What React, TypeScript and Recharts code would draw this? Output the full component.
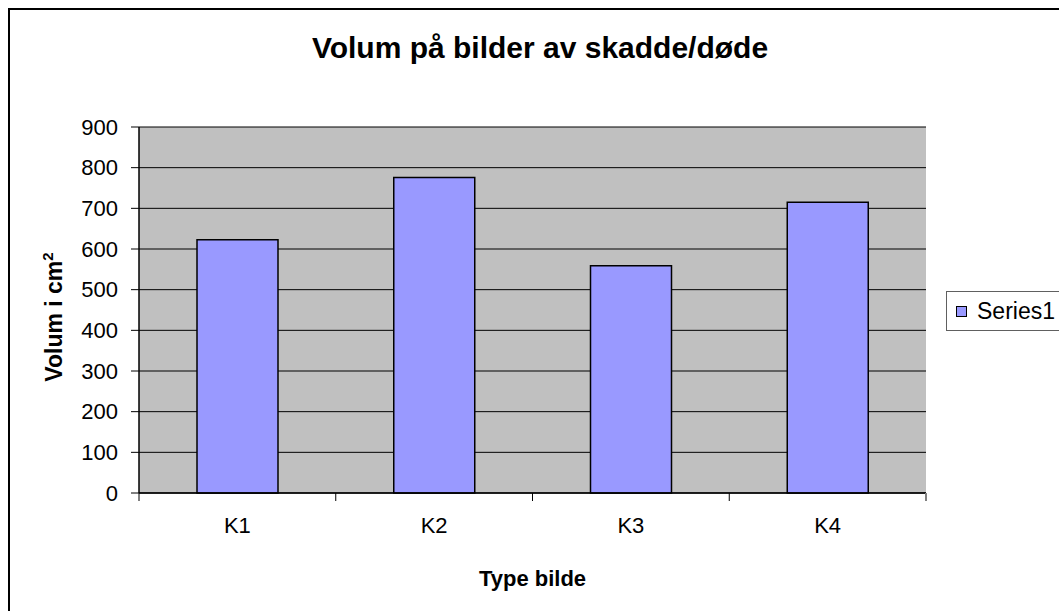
import React from 'react';
import { BarChart, Bar, XAxis, YAxis, CartesianGrid } from 'recharts';

const categories = ['K1', 'K2', 'K3', 'K4'];
const volumes = [623, 776, 559, 715];
const yTicks = [0, 100, 200, 300, 400, 500, 600, 700, 800, 900];

const title = 'Volum på bilder av skadde/døde';
const xTitle = 'Type bilde';
const yTitle = 'Volum i cm';
const seriesName = 'Series1';

const W = 1059;
const H = 611;
const FONT = '"Liberation Sans", Arial, sans-serif';
const margin = { top: 127, right: 133, left: 0, bottom: 28 };
const Y_AXIS_W = 139;
const X_AXIS_H = 90;
const plotW = W - margin.left - margin.right - Y_AXIS_W;

const data = categories.map((name, i) => ({ name, value: volumes[i] }));

// ticks sit between categories (Excel style), labels in the middle
const CategoryTick = (props: any) => {
    const { x, y, payload, index } = props;
    const band = plotW / categories.length;
    return (
        <g>
            <line x1={x - band / 2} x2={x - band / 2} y1={y} y2={y + 8} stroke="#000" />
            {index === categories.length - 1 && (
                <line x1={x + band / 2} x2={x + band / 2} y1={y} y2={y + 8} stroke="#808080" strokeWidth={2} />
            )}
            <text x={x} y={y + 40} textAnchor="middle" fontSize={22} fontFamily={FONT} fill="#000">
                {payload.value}
            </text>
        </g>
    );
};

export default function App() {
    return (
        <div style={{ position: 'absolute', left: 0, top: 0, width: W, height: H, overflow: 'hidden', background: '#fff' }}>
            <div style={{ position: 'absolute', left: 8, top: 8, width: 1200, height: 800, border: '2px solid #000' }} />

            <div style={{ position: 'absolute', left: 0, top: 0 }}>
                <BarChart width={W} height={H} data={data} margin={margin}>
                    <CartesianGrid vertical={false} stroke="#000" fill="#C0C0C0" fillOpacity={1} />
                    <XAxis
                        dataKey="name"
                        height={X_AXIS_H}
                        axisLine={{ stroke: '#000', strokeWidth: 1.5 }}
                        tickLine={false}
                        tickSize={0}
                        tickMargin={0}
                        interval={0}
                        tick={<CategoryTick />}
                        label={{
                            content: (p: any) => (
                                <text
                                    x={p.viewBox.x + p.viewBox.width / 2}
                                    y={586}
                                    textAnchor="middle"
                                    fontSize={22}
                                    fontWeight="bold"
                                    fontFamily={FONT}
                                    fill="#000"
                                >
                                    {xTitle}
                                </text>
                            ),
                        }}
                    />
                    <YAxis
                        width={Y_AXIS_W}
                        domain={[0, 900]}
                        ticks={yTicks}
                        interval={0}
                        axisLine={{ stroke: '#000', strokeWidth: 1.5 }}
                        tickLine={{ stroke: '#000' }}
                        tickSize={8}
                        tickMargin={13}
                        tick={{ fill: '#000', fontSize: 22, fontFamily: FONT }}
                        label={{
                            content: () => (
                                <text
                                    x={62}
                                    y={317}
                                    transform="rotate(-90, 62, 317)"
                                    textAnchor="middle"
                                    fontSize={23}
                                    fontWeight="bold"
                                    fontFamily={FONT}
                                    fill="#000"
                                >
                                    {yTitle}
                                    <tspan dy={-9} fontSize={15}>2</tspan>
                                </text>
                            ),
                        }}
                    />
                    <YAxis
                        yAxisId="r"
                        orientation="right"
                        width={0}
                        domain={[0, 900]}
                        tick={false}
                        tickLine={false}
                        axisLine={{ stroke: '#808080', strokeWidth: 2 }}
                    />
                    <Bar
                        dataKey="value"
                        name={seriesName}
                        fill="#9999FF"
                        stroke="#000"
                        strokeWidth={1.5}
                        barSize={81}
                        isAnimationActive={false}
                    />
                </BarChart>
            </div>

            <div
                style={{
                    position: 'absolute',
                    left: 0,
                    width: 1080,
                    top: 33,
                    textAlign: 'center',
                    fontFamily: FONT,
                    fontSize: 30,
                    fontWeight: 'bold',
                    lineHeight: '30px',
                    color: '#000',
                }}
            >
                {title}
            </div>

            <div
                style={{
                    position: 'absolute',
                    left: 946,
                    top: 291,
                    width: 200,
                    height: 38,
                    border: '1px solid #606060',
                    background: '#fff',
                    fontFamily: FONT,
                    fontSize: 23,
                    display: 'flex',
                    alignItems: 'center',
                }}
            >
                <span
                    style={{
                        display: 'inline-block',
                        width: 9,
                        height: 9,
                        marginLeft: 9,
                        marginRight: 10,
                        background: '#9999FF',
                        border: '1px solid #000',
                    }}
                />
                <span>{seriesName}</span>
            </div>
        </div>
    );
}
